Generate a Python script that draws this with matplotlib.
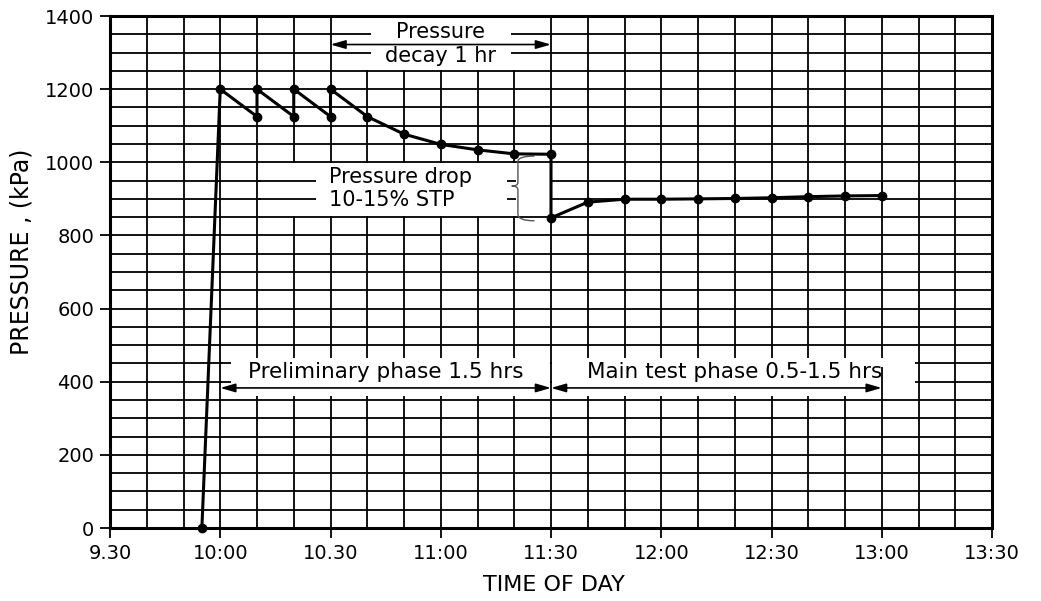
"""Pressure test record: preliminary phase followed by the main test phase."""

import matplotlib

matplotlib.use("Agg")
import matplotlib.pyplot as plt
from matplotlib.patches import PathPatch, Rectangle
from matplotlib.path import Path
from matplotlib.ticker import MultipleLocator

# readings taken off the chart (time of day, pressure in kPa)
times = ["9:55", "10:00", "10:10", "10:10", "10:20", "10:20", "10:30", "10:30",
         "10:40", "10:50", "11:00", "11:10", "11:20", "11:30",
         "11:30", "11:40", "11:50", "12:00", "12:10", "12:20", "12:30",
         "12:40", "12:50", "13:00"]
pressure = [0, 1200, 1125, 1200, 1125, 1200, 1125, 1200,
            1125, 1077, 1049, 1034, 1023, 1022,
            848, 891, 899, 899, 900, 901, 903, 906, 908, 909]

tick_times = ["9:30", "10:00", "10:30", "11:00", "11:30", "12:00", "12:30", "13:00", "13:30"]
tick_labels = ["9.30", "10:00", "10.30", "11:00", "11:30", "12:00", "12:30", "13:00", "13:30"]
y_ticks = [0, 200, 400, 600, 800, 1000, 1200, 1400]

decay_span = ("10:30", "11:30")
prelim_span = ("10:00", "11:30")
main_span = ("11:30", "13:00")


def hours(t):
    h, m = t.split(":")
    return int(h) + float(m) / 60


def mins(m):
    return m / 60


x = [hours(t) for t in times]
GRID = dict(color="black", lw=1.3, solid_capstyle="butt")
FONT = "DejaVu Sans"

fig = plt.figure(figsize=(10.41, 6.01), dpi=100)
ax = fig.add_axes([110 / 1041, 1 - 528 / 601, 882 / 1041, 512 / 601])
ax.set_xlim(hours(tick_times[0]), hours(tick_times[-1]))
ax.set_ylim(y_ticks[0], y_ticks[-1])

ax.set_xticks([hours(t) for t in tick_times])
ax.set_xticklabels(tick_labels, fontsize=14, family=FONT)
ax.set_yticks(y_ticks)
ax.set_yticklabels([str(v) for v in y_ticks], fontsize=14, family=FONT)
ax.xaxis.set_minor_locator(MultipleLocator(mins(10)))
ax.yaxis.set_minor_locator(MultipleLocator(50))
ax.tick_params(which="major", direction="out", length=7.5, width=1.3, pad=4, color="black")
ax.tick_params(which="minor", length=0)
ax.set_axisbelow(True)
ax.grid(which="both", **GRID)
for s in ax.spines.values():
    s.set_linewidth(2.2)
    s.set_zorder(5)


def blank(x0, x1, y0, y1):
    ax.add_patch(Rectangle((x0, y0), x1 - x0, y1 - y0, facecolor="white",
                           edgecolor="none", zorder=1))


def stub(x0, x1, y):
    ax.plot([x0, x1], [y, y], zorder=1.5, **GRID)


ARROW = dict(arrowstyle="<|-|>,head_length=0.45,head_width=0.13",
             mutation_scale=20, lw=1.2, color="black", shrinkA=0, shrinkB=0)

# pressure decay 1 hr, top
d0, d1 = hours(decay_span[0]), hours(decay_span[1])
blank(d0 + mins(0.4), d1 - mins(0.4), 1253, 1400)
for yy in (1300, 1350):
    stub(d0, d0 + mins(11), yy)
    stub(d1 - mins(11), d1, yy)
ax.text((d0 + d1) / 2, 1357, "Pressure", ha="center", va="center", fontsize=15,
        family=FONT, zorder=2)
ax.text((d0 + d1) / 2, 1290, "decay 1 hr", ha="center", va="center", fontsize=15,
        family=FONT, zorder=2)
ax.annotate("", xy=(d0, 1322), xytext=(d1, 1322), zorder=3, arrowprops=ARROW)

# pressure drop box with brace
top, bot = pressure[13], pressure[14]
blank(hours("10:11"), hours("11:30") - mins(0.4), 853, 997)
for yy in (900, 950):
    stub(hours("10:10"), hours("10:26"), yy)
    stub(hours("11:18"), hours("11:20.5"), yy)
ax.text(hours("10:29.5"), 960, "Pressure drop", ha="left", va="center", fontsize=15,
        family=FONT, zorder=2)
ax.text(hours("10:29.5"), 897, "10-15% STP", ha="left", va="center", fontsize=15,
        family=FONT, zorder=2)
bx0, bx1, bx2 = hours("11:19.3"), hours("11:21"), hours("11:25.5")
ym = (top + bot) / 2
verts = [(bx2, top - 5), (bx1, top - 5), (bx1, top - 20),
         (bx1, ym + 10),
         (bx1, ym), (bx0, ym),
         (bx1, ym), (bx1, ym - 10),
         (bx1, bot + 10),
         (bx1, bot - 8), (bx2, bot - 8)]
codes = [Path.MOVETO, Path.CURVE3, Path.CURVE3,
         Path.LINETO,
         Path.CURVE3, Path.CURVE3,
         Path.CURVE3, Path.CURVE3,
         Path.LINETO,
         Path.CURVE3, Path.CURVE3]
ax.add_patch(PathPatch(Path(verts, codes), facecolor="none", edgecolor="#555555",
                       lw=1.0, zorder=3))

# phase labels, bottom
p0, p1 = hours(prelim_span[0]), hours(prelim_span[1])
m0, m1 = hours(main_span[0]), hours(main_span[1])
blank(p0 + mins(0.4), p1 - mins(0.4), 360, 465)
blank(m0 + mins(0.4), hours("13:09"), 360, 465)
for yy in (400, 450):
    stub(p0, p0 + mins(3), yy)
ax.text((p0 + p1) / 2, 427, "Preliminary phase 1.5 hrs", ha="center", va="center",
        fontsize=15.5, family=FONT, zorder=2)
ax.text(hours("12:20"), 427, "Main test phase 0.5-1.5 hrs", ha="center", va="center",
        fontsize=15.5, family=FONT, zorder=2)
for a, b in ((p0, p1), (m0, m1)):
    ax.annotate("", xy=(a, 383), xytext=(b, 383), zorder=3, arrowprops=ARROW)
ax.plot([m1, m1], [360, 440], zorder=3, **GRID)

# the record itself
ax.plot(x, pressure, color="black", lw=2.2, marker="o", markersize=6,
        zorder=4, clip_on=False)

fig.text(554 / 1041, 1 - 585 / 601, "TIME OF DAY", ha="center", va="center",
         fontsize=16, family=FONT)
fig.text(22 / 1041, 1 - 252 / 601, "PRESSURE , (kPa)", rotation=90, ha="center",
         va="center", fontsize=17, family=FONT)

fig.savefig("out.png", dpi=100)
